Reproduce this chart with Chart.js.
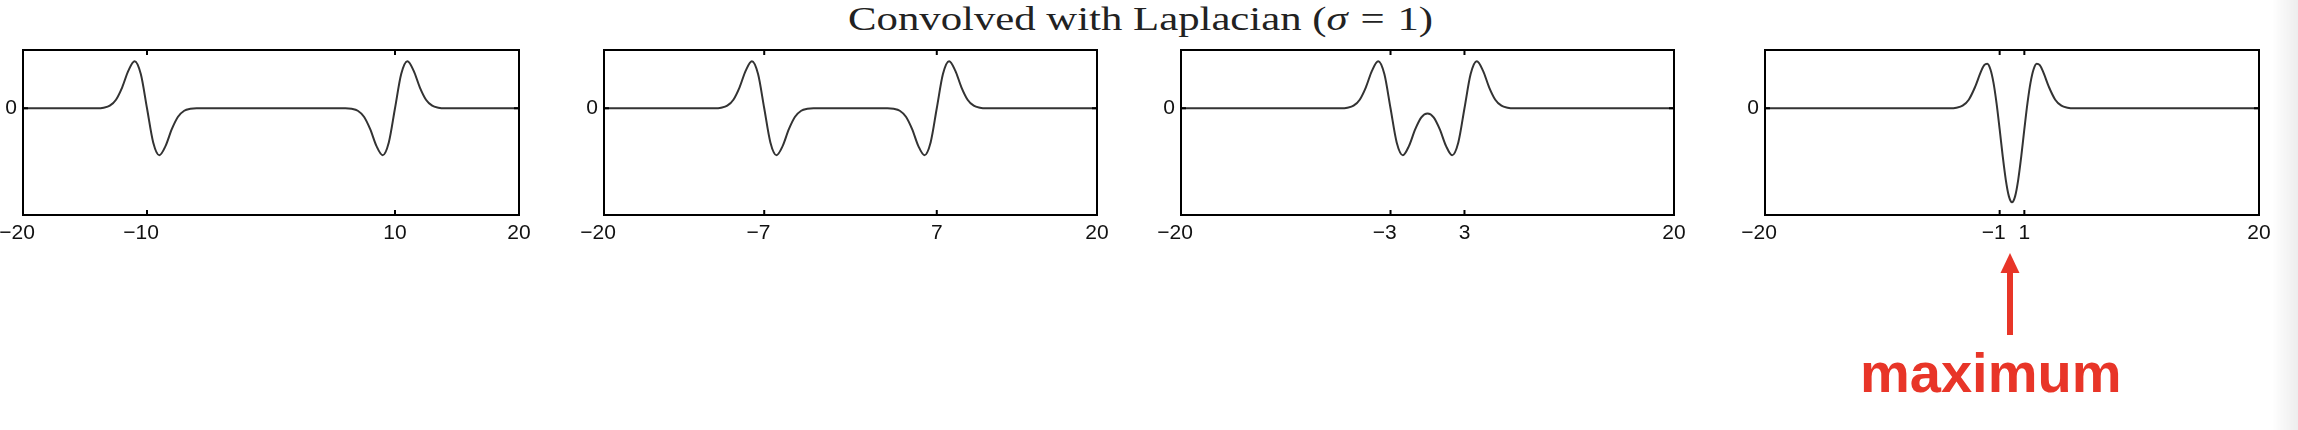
<!DOCTYPE html>
<html>
<head>
<meta charset="utf-8">
<script src="https://cdn.jsdelivr.net/npm/chart.js@4.4.1/dist/chart.umd.min.js"></script>
<style>
  html, body { margin: 0; padding: 0; background: #fff; }
  body { width: 2298px; height: 430px; position: relative; overflow: hidden; }
  .panel { position: absolute; top: 0; }
  #title { position: absolute; top: 0; left: 0; white-space: nowrap;
           font-family: "Liberation Serif", serif; font-size: 34px; color: #222;
           transform-origin: 0 0; }
  #title .eq { margin: 0 0.3em; }
  #maxlabel { position: absolute; left: 1860px; top: 340px; white-space: nowrap;
              font-family: "Liberation Sans", Arial, sans-serif; font-weight: bold;
              font-size: 56px; color: #e83528; }
  #shade { position: absolute; right: 0; top: 0; width: 26px; height: 430px;
           background: linear-gradient(to right, rgba(0,0,0,0), rgba(0,0,0,0.07)); }
</style>
</head>
<body>
<div id="title">Convolved with Laplacian (<i>σ</i><span class="eq">=</span>1)</div>
<div id="c0" class="panel"><canvas id="k0"></canvas></div>
<div id="c1" class="panel"><canvas id="k1"></canvas></div>
<div id="c2" class="panel"><canvas id="k2"></canvas></div>
<div id="c3" class="panel"><canvas id="k3"></canvas></div>
<svg id="arrow" width="2298" height="430" style="position:absolute;left:0;top:0;pointer-events:none">
  <rect x="2007" y="268" width="6" height="67" fill="#e83528"/>
  <polygon points="2000.5,273 2010,253 2019.5,273" fill="#e83528"/>
</svg>
<div id="maxlabel">maximum</div>
<div id="shade"></div>
<script>
// ---- data (x, response) ----
const x1 = [-20,-14,-13.5,-13,-12.5,-12,-11.5,-11,-10.5,-10,-9.5,-9,-8.5,-8,-7.5,-7,-6.5,-6,
            6,6.5,7,7.5,8,8.5,9,9.5,10,10.5,11,11.5,12,12.5,13,13.5,14,20];
const y1 = [0,0,0.003,0.013,0.044,0.108,0.194,0.242,0.176,0,-0.176,-0.242,-0.194,-0.108,-0.044,-0.013,-0.003,0,
            0,-0.003,-0.013,-0.044,-0.108,-0.194,-0.242,-0.176,0,0.176,0.242,0.194,0.108,0.044,0.013,0.003,0,0];

const x2 = [-20,-11,-10.5,-10,-9.5,-9,-8.5,-8,-7.5,-7,-6.5,-6,-5.5,-5,-4.5,-4,-3.5,-3,
            3,3.5,4,4.5,5,5.5,6,6.5,7,7.5,8,8.5,9,9.5,10,10.5,11,20];
const y2 = [0,0,0.003,0.013,0.044,0.108,0.194,0.242,0.176,0,-0.176,-0.242,-0.194,-0.108,-0.044,-0.013,-0.003,0,
            0,-0.003,-0.013,-0.044,-0.108,-0.194,-0.242,-0.176,0,0.176,0.242,0.194,0.108,0.044,0.013,0.003,0,0];

const x3 = [-20,-7,-6.5,-6,-5.5,-5,-4.5,-4,-3.5,-3,-2.5,-2,-1.5,-1,-0.5,0,
            0.5,1,1.5,2,2.5,3,3.5,4,4.5,5,5.5,6,6.5,7,20];
const y3 = [0,0,0.003,0.013,0.044,0.108,0.194,0.242,0.176,0,-0.176,-0.242,-0.194,-0.109,-0.047,-0.027,
            -0.047,-0.109,-0.194,-0.242,-0.176,0,0.176,0.242,0.194,0.108,0.044,0.013,0.003,0,0];

const x4 = [-20,-5,-4.5,-4,-3.5,-3,-2.5,-2.25,-2,-1.75,-1.5,-1.25,-1,-0.75,-0.5,-0.25,0,
            0.25,0.5,0.75,1,1.25,1.5,1.75,2,2.25,2.5,3,3.5,4,4.5,5,20];
const y4 = [0,0,0.003,0.013,0.044,0.108,0.191,0.222,0.229,0.201,0.132,0.025,-0.108,-0.248,-0.370,-0.454,-0.484,
            -0.454,-0.370,-0.248,-0.108,0.025,0.132,0.201,0.229,0.222,0.191,0.108,0.044,0.013,0.003,0,0];

const xTicks1 = [-20,-10,10,20];
const xTicks2 = [-20,-7,7,20];
const xTicks3 = [-20,-3,3,20];
const xTicks4 = [-20,-1,1,20];
const yTicks = [0];
const xRange = [-20, 20];
const yRange = [-0.55, 0.3];

// ---- layout ----
const boxLefts  = [23, 604, 1181, 1765];
const boxRights = [519, 1097, 1674, 2259];
const PADL = 40, PADR = 25, TOP = 50, BOTTOM = 215, CH = 250;

const frame = {
  id: 'frame',
  afterDraw(chart) {
    const {ctx, chartArea: a, scales: {x, y}} = chart;
    ctx.save();
    ctx.strokeStyle = '#000';
    ctx.lineWidth = 2;
    ctx.strokeRect(a.left, a.top, a.right - a.left, a.bottom - a.top);
    ctx.beginPath();
    x.ticks.forEach(t => {
      const px = x.getPixelForValue(t.value);
      if (px <= a.left + 1 || px >= a.right - 1) return;
      ctx.moveTo(px, a.bottom); ctx.lineTo(px, a.bottom - 5);
      ctx.moveTo(px, a.top);    ctx.lineTo(px, a.top + 5);
    });
    y.ticks.forEach(t => {
      const py = y.getPixelForValue(t.value);
      ctx.moveTo(a.left, py);  ctx.lineTo(a.left + 5, py);
      ctx.moveTo(a.right, py); ctx.lineTo(a.right - 5, py);
    });
    ctx.stroke();
    ctx.restore();
  }
};

function fmt(v) {
  if (v < 0) return '\u2212' + Math.abs(v) + '\u2007';
  return String(v);
}

function makePanel(i, xs, ys, ticks) {
  const W = (boxRights[i] - boxLefts[i]) + PADL + PADR;
  const holder = document.getElementById('c' + i);
  holder.style.left = (boxLefts[i] - PADL) + 'px';
  holder.style.width = W + 'px';
  holder.style.height = CH + 'px';
  const cv = document.getElementById('k' + i);
  cv.width = W; cv.height = CH;
  cv.style.width = W + 'px'; cv.style.height = CH + 'px';
  const font = {family: '"Liberation Sans", Arial, sans-serif', size: 21};
  new Chart(cv, {
    type: 'line',
    data: {
      datasets: [{
        data: xs.map((v, k) => ({x: v, y: ys[k]})),
        borderColor: '#333',
        borderWidth: 2,
        pointRadius: 0,
        cubicInterpolationMode: 'monotone',
        fill: false
      }]
    },
    options: {
      responsive: false,
      devicePixelRatio: 1,
      animation: false,
      events: [],
      layout: {padding: {left: 0, right: PADR, top: TOP, bottom: 0}},
      plugins: {legend: {display: false}, tooltip: {enabled: false}, title: {display: false}},
      scales: {
        x: {
          type: 'linear', min: xRange[0], max: xRange[1],
          grid: {display: false, drawTicks: false},
          border: {display: false},
          afterBuildTicks: s => { s.ticks = ticks.map(v => ({value: v})); },
          afterFit: s => { s.height = CH - BOTTOM; s.paddingLeft = 0; s.paddingRight = 0; },
          ticks: {autoSkip: false, maxRotation: 0, minRotation: 0, padding: 6,
                  color: '#111', font, callback: v => fmt(v)}
        },
        y: {
          type: 'linear', min: yRange[0], max: yRange[1],
          grid: {display: false, drawTicks: false},
          border: {display: false},
          afterBuildTicks: s => { s.ticks = yTicks.map(v => ({value: v})); },
          afterFit: s => { s.width = PADL; s.paddingTop = 0; s.paddingBottom = 0; },
          ticks: {autoSkip: false, padding: 6, color: '#111', font, callback: v => String(v)}
        }
      }
    },
    plugins: [frame]
  });
}

makePanel(0, x1, y1, xTicks1);
makePanel(1, x2, y2, xTicks2);
makePanel(2, x3, y3, xTicks3);
makePanel(3, x4, y4, xTicks4);

// fit the title over its span in the reference (848 .. 1433)
const t = document.getElementById('title');
const tw = t.getBoundingClientRect().width;
const target = 585;
t.style.left = '848px';
t.style.transform = 'scaleX(' + (target / tw) + ')';
</script>
</body>
</html>
